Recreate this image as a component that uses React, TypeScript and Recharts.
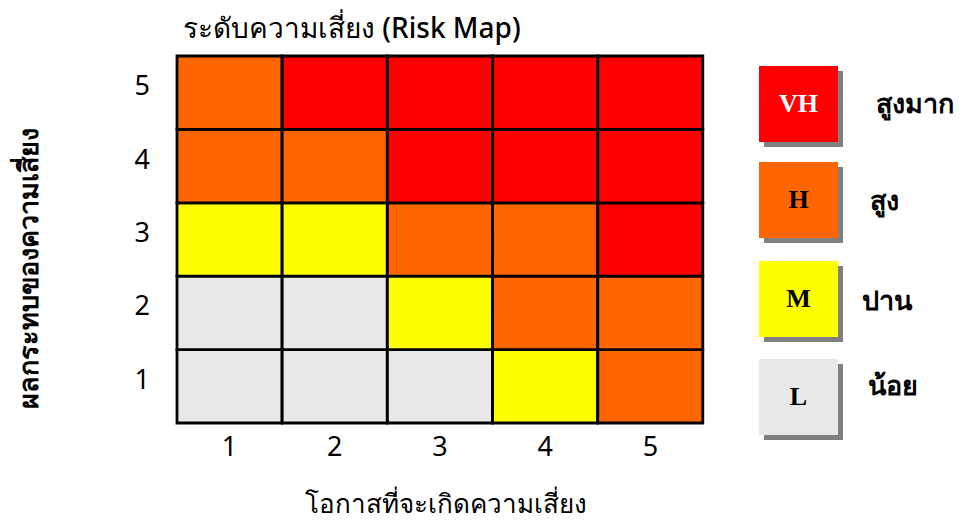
import { BarChart, Bar, XAxis, YAxis, Cell } from 'recharts'

const likelihood = ['1', '2', '3', '4', '5']
const impactLevels = [1, 2, 3, 4, 5]

// risk level per cell, row = impact (1 at bottom), column = likelihood 1..5
const impact1 = ['L', 'L', 'L', 'M', 'H']
const impact2 = ['L', 'L', 'M', 'H', 'H']
const impact3 = ['M', 'M', 'H', 'H', 'VH']
const impact4 = ['H', 'H', 'VH', 'VH', 'VH']
const impact5 = ['H', 'VH', 'VH', 'VH', 'VH']
const grid = [impact1, impact2, impact3, impact4, impact5]

const levels = ['VH', 'H', 'M', 'L']
const levelNames = ['สูงมาก', 'สูง', 'ปาน', 'น้อย']
const levelColors: Record<string, string> = {
  VH: '#ff0000',
  H: '#ff6600',
  M: '#ffff00',
  L: '#e8e8e8',
}

const data = likelihood.map(x => {
  const row: Record<string, string | number> = { x }
  impactLevels.forEach(n => { row['i' + n] = 1 })
  return row
})

const font = "'Noto Sans', sans-serif"

// legend placement
const legendBoxes = [
  { top: 66, label: { left: 876, top: 103 } },
  { top: 162, label: { left: 870, top: 200 } },
  { top: 261, label: { left: 862, top: 300 } },
  { top: 359, label: { left: 868, top: 385 } },
]

export default function App() {
  return (
    <div style={{ position: 'absolute', left: 0, top: 0, width: 966, height: 525, background: '#fff', fontFamily: font }}>
      <div style={{ position: 'absolute', left: 183, top: 28, transform: 'translateY(-50%)', fontSize: 28, fontWeight: 500, whiteSpace: 'nowrap' }}>
        ระดับความเสี่ยง (Risk Map)
      </div>
      <div
        style={{
          position: 'absolute',
          left: 28,
          top: 268,
          transform: 'translate(-50%, -50%) rotate(-90deg)',
          fontSize: 27,
          fontWeight: 700,
          whiteSpace: 'nowrap',
        }}
      >
        ผลกระทบของความเสี่ยง
      </div>
      <div
        style={{
          position: 'absolute',
          left: 446,
          top: 503,
          transform: 'translate(-50%, -50%)',
          fontSize: 26,
          fontWeight: 500,
          whiteSpace: 'nowrap',
        }}
      >
        โอกาสที่จะเกิดความเสี่ยง
      </div>

      <div style={{ position: 'absolute', left: 0, top: 0 }}>
        <BarChart
          width={966}
          height={525}
          data={data}
          margin={{ top: 56, right: 263, bottom: 62, left: 117 }}
          barCategoryGap={0}
          barGap={0}
        >
          <XAxis
            dataKey="x"
            height={40}
            axisLine={false}
            tickLine={false}
            tickSize={0}
            tickMargin={14}
            tick={{ fill: '#000', fontSize: 27, fontFamily: font }}
          />
          <YAxis
            type="number"
            domain={[0, 5]}
            ticks={[0.5, 1.5, 2.5, 3.5, 4.5]}
            tickFormatter={v => String(v + 0.5)}
            width={60}
            axisLine={false}
            tickLine={false}
            tickSize={0}
            tickMargin={27}
            tick={{ fill: '#000', fontSize: 27, fontFamily: font, dy: -7 }}
          />
          {impactLevels.map((n, ri) => (
            <Bar key={n} dataKey={'i' + n} stackId="a" stroke="#000" strokeWidth={2.8} isAnimationActive={false}>
              {likelihood.map((_, ci) => (
                <Cell key={ci} fill={levelColors[grid[ri][ci]]} />
              ))}
            </Bar>
          ))}
        </BarChart>
      </div>

      {levels.map((lv, i) => (
        <div key={lv}>
          <div style={{ position: 'absolute', left: 764, top: legendBoxes[i].top + 5, width: 79, height: 76, background: '#808080' }} />
          <div
            style={{
              position: 'absolute',
              left: 759,
              top: legendBoxes[i].top,
              width: 79,
              height: 76,
              background: levelColors[lv],
              display: 'flex',
              alignItems: 'center',
              justifyContent: 'center',
              fontFamily: "'Liberation Serif', serif",
              fontWeight: 700,
              fontSize: 26,
              color: lv === 'VH' ? '#fff' : '#000',
            }}
          >
            {lv}
          </div>
          <div
            style={{
              position: 'absolute',
              left: legendBoxes[i].label.left,
              top: legendBoxes[i].label.top,
              transform: 'translateY(-50%)',
              fontSize: 27,
              fontWeight: 700,
              whiteSpace: 'nowrap',
            }}
          >
            {levelNames[i]}
          </div>
        </div>
      ))}
    </div>
  )
}
